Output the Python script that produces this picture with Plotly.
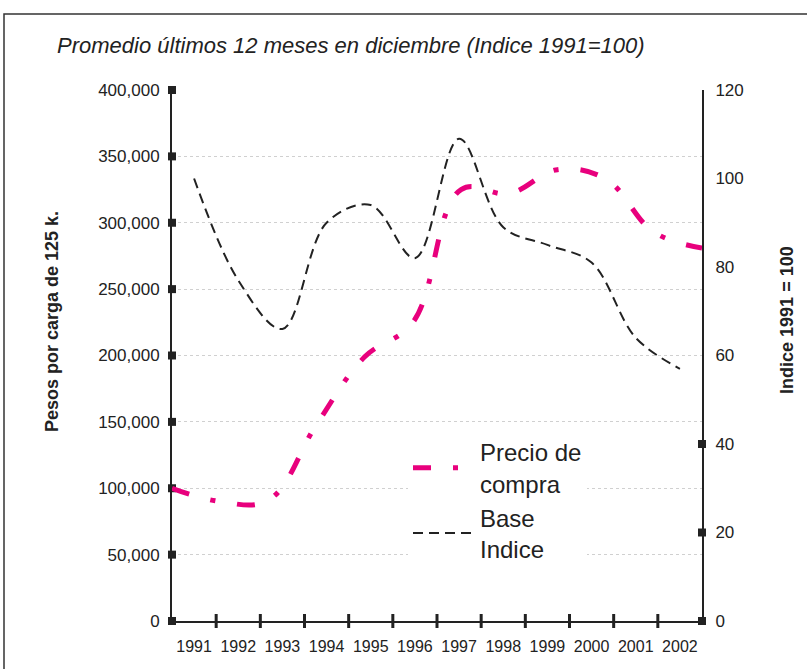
import plotly.graph_objects as go

# yearly values
years = [1991, 1992, 1993, 1994, 1995, 1996, 1997, 1998, 1999, 2000, 2001, 2002]
precio_compra = [100000, 90000, 91000, 148000, 199000, 225000,
                 325000, 322000, 340000, 333000, 293000, 281000]
base_indice = [100, 77, 66, 90, 94, 82, 109, 89, 85, 81, 64, 57]

year_labels = [str(y) for y in years]
pesos_ticks = list(range(0, 400001, 50000))
indice_ticks = list(range(0, 121, 20))
indice_marks = [0, 20, 40]
year_bounds = [y - 0.5 for y in years] + [years[-1] + 0.5]

INK = '#222222'
PINK = '#e8007d'
FONT = 'Arial'

fig = go.Figure()

# precio de compra: plotted on-tick, on its own hidden x axis
fig.add_trace(go.Scatter(
    x=years, y=precio_compra, name='Precio de<br>compra',
    mode='lines', line=dict(color=PINK, width=5, shape='spline', smoothing=1.1,
                            dash='18px,22px,5px,22px'),
    xaxis='x2', yaxis='y'))

# base indice: plotted between ticks, on the right axis
fig.add_trace(go.Scatter(
    x=years, y=base_indice, name='Base<br>Indice',
    mode='lines', line=dict(color=INK, width=2, shape='spline', smoothing=1.0,
                            dash='10px,6px'),
    xaxis='x', yaxis='y2'))

xr = [year_bounds[0], year_bounds[-1]]

# square tick marks sitting across the axis lines
tick_style = dict(mode='markers', showlegend=False, hoverinfo='skip', cliponaxis=False)
fig.add_trace(go.Scatter(x=[xr[0]] * len(pesos_ticks), y=pesos_ticks,
                         marker=dict(symbol='square', size=8, color=INK),
                         xaxis='x', yaxis='y', **tick_style))
fig.add_trace(go.Scatter(x=[xr[1]] * len(indice_marks), y=indice_marks,
                         marker=dict(symbol='square', size=8, color=INK),
                         xaxis='x', yaxis='y2', **tick_style))
fig.add_trace(go.Scatter(x=year_bounds[1:-1], y=[0] * (len(year_bounds) - 2),
                         marker=dict(symbol='line-ns', size=10,
                                     line=dict(width=3, color=INK)),
                         xaxis='x', yaxis='y', **tick_style))

fig.update_layout(
    width=807, height=669,
    margin=dict(l=172, r=105, t=90, b=48),
    paper_bgcolor='white', plot_bgcolor='white',
    font=dict(family=FONT, color=INK),
    title=dict(text='<i>Promedio últimos 12 meses en diciembre (Indice 1991=100)</i>',
               x=57 / 807, xanchor='left', xref='container',
               y=1 - 45 / 669, yanchor='middle', yref='container',
               font=dict(family=FONT, size=22, color=INK)),
    xaxis=dict(range=xr, tickvals=years, ticktext=year_labels, ticks='',
               showline=True, linecolor=INK, linewidth=2, showgrid=False,
               zeroline=False, tickfont=dict(family=FONT, size=16, color=INK),
               ticklabelstandoff=10, anchor='y'),
    xaxis2=dict(range=[years[0], years[-1]], overlaying='x', visible=False, anchor='y'),
    yaxis=dict(range=[0, 400000], tickvals=pesos_ticks, tickformat=',',
               ticks='', showline=True, linecolor=INK, linewidth=2,
               showgrid=True, gridcolor='#d0d0d0', gridwidth=1, griddash='dot',
               zeroline=False, tickfont=dict(family=FONT, size=17, color=INK),
               ticklabelstandoff=7, anchor='x'),
    yaxis2=dict(range=[0, 120], tickvals=indice_ticks, side='right', overlaying='y',
                ticks='', showline=True, linecolor=INK, linewidth=2, showgrid=False,
                zeroline=False, tickfont=dict(family=FONT, size=17, color=INK),
                ticklabelstandoff=8, anchor='x'),
    legend=dict(x=(408 - 172) / 530, y=(621 - 430) / 531, xanchor='left', yanchor='top',
                bgcolor='white', borderwidth=0, itemwidth=62,
                font=dict(family=FONT, size=24, color=INK)),
    showlegend=True,
)

# axis titles
fig.add_annotation(text='<b>Pesos por carga de 125 k.</b>', textangle=-90,
                   xref='paper', yref='paper', x=(52 - 172) / 530, y=0.563,
                   xanchor='center', yanchor='middle', showarrow=False,
                   font=dict(family=FONT, size=18, color=INK))
fig.add_annotation(text='<b>Indice 1991 = 100</b>', textangle=-90,
                   xref='paper', yref='paper', x=(787 - 172) / 530, y=0.567,
                   xanchor='center', yanchor='middle', showarrow=False,
                   font=dict(family=FONT, size=18, color=INK))

# outer frame
fig.add_shape(type='rect', xref='paper', yref='paper',
              x0=(4 - 172) / 530, x1=1.21, y0=-0.2, y1=(621 - 14) / 531,
              line=dict(color='#333333', width=1.5), layer='below')

# drop the default page margin so the figure sits at the window's corner
fig.write_html('out.html', config={'displayModeBar': False},
               post_script="document.body.style.margin='0';")
